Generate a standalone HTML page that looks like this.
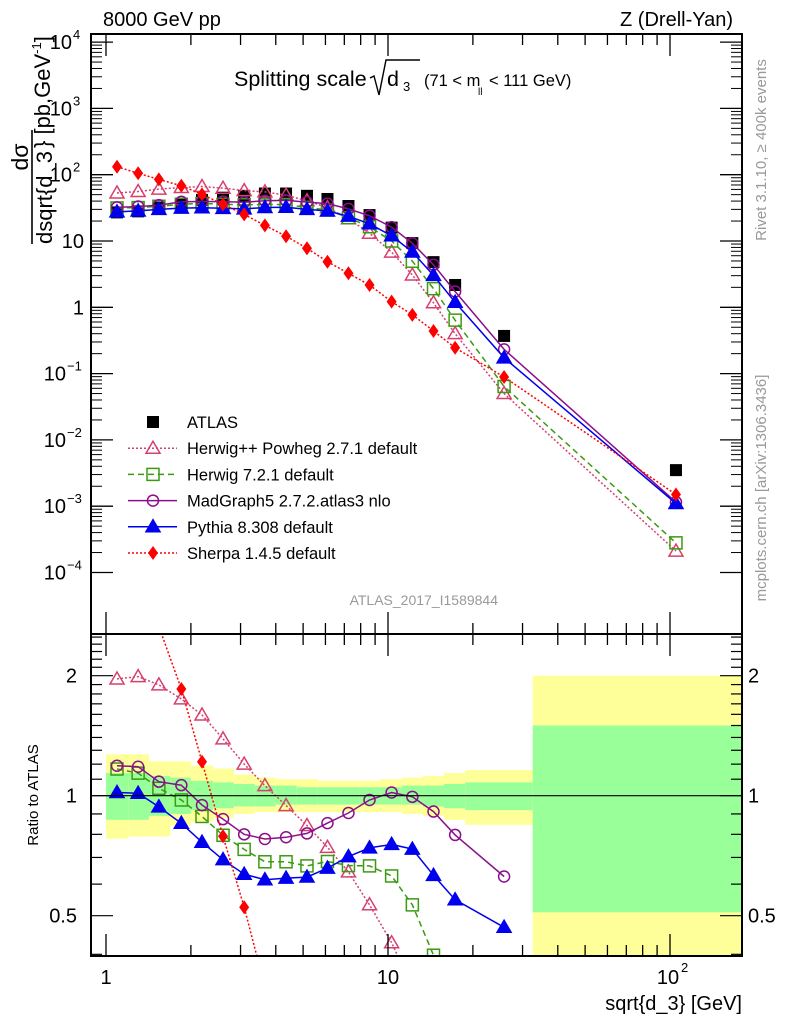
<!DOCTYPE html>
<html><head><meta charset="utf-8"><style>
html,body{margin:0;padding:0;background:#fff;width:786px;height:1024px;overflow:hidden;}
svg{display:block;font-family:"Liberation Sans",sans-serif;}
</style></head><body>
<svg id="c" width="786" height="1024" viewBox="0 0 786 1024" xmlns="http://www.w3.org/2000/svg">
<defs>
<clipPath id="mainClip"><rect x="91" y="34" width="651" height="600"/></clipPath>
<clipPath id="ratioClip"><rect x="91" y="634" width="651" height="322"/></clipPath>
</defs>
<g id="bands" clip-path="url(#ratioClip)"></g>
<g id="series"></g>
<g id="axes"></g>
<text x="103" y="26" font-size="20">8000 GeV pp</text>
<text x="733" y="26" font-size="20" text-anchor="end">Z (Drell-Yan)</text>
<g>
<text x="234" y="86" font-size="21.5">Splitting scale</text>
<path d="M370,78 L374,76 L379,95 L386,60 L420,60" fill="none" stroke="#000" stroke-width="1.4"/>
<text x="387" y="86" font-size="21.5">d</text><text x="403" y="91" font-size="13">3</text>
<text x="424" y="86" font-size="16.5">(71 &lt; m</text><text x="478" y="95" font-size="10">ll</text><text x="489" y="86" font-size="16.5">&lt; 111 GeV)</text>
</g>
<g>
<text transform="translate(28,157) rotate(-90)" font-size="23" text-anchor="middle">dσ</text>
<line x1="32" y1="130" x2="32" y2="244" stroke="#000" stroke-width="1.6"/>
<text transform="translate(52,244) rotate(-90)" font-size="22">dsqrt{d_3</text>
<text transform="translate(50,148) rotate(-90)" font-size="22">} [pb,GeV<tspan dy="-9" font-size="13">-1</tspan><tspan dy="9" font-size="22">]</tspan></text>
</g>
<text transform="translate(38,795) rotate(-90)" font-size="15" text-anchor="middle">Ratio to ATLAS</text>
<text x="742" y="1010" font-size="20" text-anchor="end">sqrt{d_3} [GeV]</text>
<text transform="translate(766,150) rotate(-90)" font-size="15" fill="#999" text-anchor="middle">Rivet 3.1.10, ≥ 400k events</text>
<text transform="translate(766,488) rotate(-90)" font-size="15" fill="#999" text-anchor="middle">mcplots.cern.ch [arXiv:1306.3436]</text>
<text x="498" y="605" font-size="14" fill="#999" text-anchor="end">ATLAS_2017_I1589844</text>
<g id="legend"></g>
</svg>
<script>
const xs=[1.094,1.30,1.54,1.85,2.19,2.60,3.09,3.66,4.35,5.16,6.1,7.24,8.6,10.3,12.2,14.5,17.3,25.8,105];
const atlas=[27,28,32,36.7,41.6,45,48,52,52,48,43,33.7,24.6,15.9,9.3,4.8,2.17,0.37,0.0035];
const herwigpp=[53,55.7,60.7,64.2,66.3,62.5,57.6,55.1,49.1,40.4,31.9,21.7,13.1,6.8,3.07,1.17,0.40,0.05,0.00021];
const herwig7=[31.5,31.9,33.4,35.8,36.9,35.8,35.2,35.5,35.5,32,29.4,22.5,16.4,10.0,4.95,1.91,0.64,0.064,0.00028];
const madgraph=[32.1,33.1,34.7,39.0,39.4,39.3,38.4,40.5,40.9,38.6,36.7,30.5,24.0,16.2,9.24,4.38,1.73,0.232,0.00115];
const pythia=[27.5,28.4,30.0,31.3,31.8,31.1,30.5,32.0,32.3,30.0,28.3,23.7,18.2,12.0,6.83,3.03,1.19,0.173,0.0011];
const sherpa=[132,105,85,68,50.6,35.6,25.2,17.2,11.8,7.76,4.87,3.26,2.17,1.22,0.77,0.44,0.245,0.089,0.0015];
const binEdges=[1.0,1.2,1.42,1.69,2.0,2.4,2.84,3.37,4.0,4.75,5.64,6.7,7.9,9.4,11.2,13.3,15.8,18.8,32.6,180];
const yellowUp=[1.27,1.27,1.22,1.22,1.19,1.17,1.13,1.11,1.10,1.10,1.09,1.09,1.09,1.10,1.11,1.12,1.14,1.16,2.0];
const yellowDn=[0.78,0.79,0.79,0.84,0.86,0.88,0.90,0.91,0.91,0.91,0.91,0.91,0.91,0.91,0.90,0.89,0.87,0.845,0.3];
const greenUp=[1.14,1.14,1.12,1.11,1.09,1.08,1.07,1.06,1.06,1.05,1.05,1.05,1.05,1.05,1.06,1.06,1.07,1.08,1.5];
const greenDn=[0.87,0.87,0.89,0.90,0.92,0.93,0.94,0.94,0.95,0.95,0.95,0.95,0.95,0.95,0.95,0.94,0.93,0.92,0.51];
const mainTicks=[-4,-3,-2,-1,0,1,2,3,4];
const ratioTickLabels=[0.5,1,2];
const ratioPointCount=18;

const NS="http://www.w3.org/2000/svg";
const L=91,R=742,T=34,M=634,B=956;
function X(v){return 106+282*Math.log10(v);}
function Y(v){return 241-66.3*(Math.log10(v)-1);}
function YR(v){return 795.7-398.6*Math.log10(v);}
function mk(tag,attrs,parent){const e=document.createElementNS(NS,tag);for(const k in attrs)e.setAttribute(k,attrs[k]);parent.appendChild(e);return e;}
const axes=document.getElementById('axes'),bands=document.getElementById('bands'),ser=document.getElementById('series'),leg=document.getElementById('legend');

for(let i=0;i<binEdges.length-1;i++){
  const x1=X(binEdges[i]),x2=X(binEdges[i+1]);
  const y=mk('rect',{x:x1,y:YR(yellowUp[i]),width:x2-x1,height:YR(yellowDn[i])-YR(yellowUp[i]),fill:'#ffff99'},bands);
  
  
  const g=mk('rect',{x:x1,y:YR(greenUp[i]),width:x2-x1,height:YR(greenDn[i])-YR(greenUp[i]),fill:'#99ff99'},bands);
  
  
}
const one=mk('line',{x1:L,x2:R,y1:YR(1),y2:YR(1),stroke:'#000','stroke-width':1.2},axes);



mk('rect',{x:L,y:T,width:R-L,height:M-T,fill:'none',stroke:'#000','stroke-width':2},axes);
mk('rect',{x:L,y:M,width:R-L,height:B-M,fill:'none',stroke:'#000','stroke-width':2},axes);

for(let d=0;d<=2;d++){for(let k=1;k<=9;k++){const v=k*Math.pow(10,d);if(v<0.885||v>180)continue;const x=X(v);const len=k==1?22:11;
 [[T,1],[M,-1],[M,1],[B,-1]].forEach(([y0,s])=>mk('line',{x1:x,x2:x,y1:y0,y2:y0+s*len,stroke:'#000','stroke-width':1.3},axes));}}
const xl=[[1,'1'],[10,'10']];
xl.forEach(([v,t])=>{const e=mk('text',{x:X(v),y:984,'font-size':20,'text-anchor':'middle'},axes);e.textContent=t;});
const e100=mk('text',{x:X(100)-2,y:984,'font-size':20,'text-anchor':'middle'},axes);e100.textContent='10';
const s100=mk('text',{x:X(100)+11,y:972,'font-size':13},axes);s100.textContent='2';

for(const p of mainTicks){const y=Y(Math.pow(10,p));
 mk('line',{x1:L,x2:L+22,y1:y,y2:y,stroke:'#000','stroke-width':1.3},axes);mk('line',{x1:R,x2:R-22,y1:y,y2:y,stroke:'#000','stroke-width':1.3},axes);
 for(let k=2;k<=9;k++){const yy=Y(k*Math.pow(10,p));if(yy<T)continue;mk('line',{x1:L,x2:L+11,y1:yy,y2:yy,stroke:'#000','stroke-width':1},axes);mk('line',{x1:R,x2:R-11,y1:yy,y2:yy,stroke:'#000','stroke-width':1},axes);}
 let t;
 if(p==0){t=mk('text',{x:84,y:y+7,'font-size':20,'text-anchor':'end'},axes);t.textContent='1';}
 else if(p==1){t=mk('text',{x:84,y:y+7,'font-size':20,'text-anchor':'end'},axes);t.textContent='10';}
 else{const ex=String(p).replace('-','−');t=mk('text',{x:p<0?66:72,y:y+7,'font-size':20,'text-anchor':'end'},axes);t.textContent='10';const s=mk('text',{x:p<0?67:73,y:y-3,'font-size':13},axes);s.textContent=ex;}
}
for(let i=4;i<=25;i++){const vv=i/10;const y=YR(vv);if(y<M||y>B)continue;
 const maj=(vv==0.5||vv==1||vv==2);const len=maj?22:11;
 mk('line',{x1:L,x2:L+len,y1:y,y2:y,stroke:'#000','stroke-width':1.2},axes);mk('line',{x1:R,x2:R-len,y1:y,y2:y,stroke:'#000','stroke-width':1.2},axes);}
ratioTickLabels.forEach(v=>{const y=YR(v)+7;
 const a=mk('text',{x:77,y:y,'font-size':20,'text-anchor':'end'},axes);a.textContent=String(v);
 const b=mk('text',{x:748,y:y,'font-size':20},axes);b.textContent=String(v);});

const models=[
 {name:'herwigpp',label:'Herwig++ Powheg 2.7.1 default',vals:herwigpp,color:'#d6406e',dash:'2,2',marker:'tri-open'},
 {name:'herwig7',label:'Herwig 7.2.1 default',vals:herwig7,color:'#3a9a10',dash:'6,4',marker:'sq-open'},
 {name:'madgraph',label:'MadGraph5 2.7.2.atlas3 nlo',vals:madgraph,color:'#8b0e8b',dash:'',marker:'circ-open'},
 {name:'pythia',label:'Pythia 8.308 default',vals:pythia,color:'#0000ee',dash:'',marker:'tri'},
 {name:'sherpa',label:'Sherpa 1.4.5 default',vals:sherpa,color:'#ff0000',dash:'2,2',marker:'dia'}
];
function marker(type,x,y,c,parent){let e;
 if(type=='tri-open'||type=='tri')e=mk('path',{d:`M${x},${y-7}L${x+7},${y+5}L${x-7},${y+5}Z`,fill:type=='tri'?c:'none',stroke:c,'stroke-width':1.5},parent);
 else if(type=='sq-open')e=mk('rect',{x:x-6,y:y-6,width:12,height:12,fill:'none',stroke:c,'stroke-width':1.5},parent);
 else if(type=='circ-open')e=mk('circle',{cx:x,cy:y,r:5.5,fill:'none',stroke:c,'stroke-width':1.5},parent);
 else if(type=='dia')e=mk('path',{d:`M${x},${y-7}L${x+5},${y}L${x},${y+7}L${x-5},${y}Z`,fill:c},parent);
 else e=mk('rect',{x:x-6,y:y-6,width:12,height:12,fill:c},parent);
 return e;}
const gm=mk('g',{'clip-path':'url(#mainClip)'},ser);
const gr=mk('g',{'clip-path':'url(#ratioClip)'},ser);
xs.forEach((x,i)=>{const a=marker('sq',X(x),Y(atlas[i]),'#000',gm);
 
 });
models.forEach(m=>{
 const pm=xs.map((x,i)=>`${X(x).toFixed(1)},${Y(m.vals[i]).toFixed(1)}`).join(' ');
 const l1=mk('polyline',{points:pm,fill:'none',stroke:m.color,'stroke-width':1.5,'stroke-dasharray':m.dash},gm);
 
 
 const rx=xs.slice(0,ratioPointCount);
 const pr=rx.map((x,i)=>`${X(x).toFixed(1)},${YR(m.vals[i]/atlas[i]).toFixed(1)}`).join(' ');
 const l2=mk('polyline',{points:pr,fill:'none',stroke:m.color,'stroke-width':1.5,'stroke-dasharray':m.dash},gr);
 
 
 xs.forEach((x,i)=>{
  const a=marker(m.marker,X(x),Y(m.vals[i]),m.color,gm);
  
  
  if(i<ratioPointCount){
   const b=marker(m.marker,X(x),YR(m.vals[i]/atlas[i]),m.color,gr);
   
   
  }
 });
});

const rows=[{label:'ATLAS',color:'#000',dash:null,marker:'sq'}].concat(models);
rows.forEach((r,i)=>{const y=422+26.2*i;
 const g=mk('g',{},leg);
 
 
 if(r.dash!==null){mk('line',{x1:128,x2:177,y1:y,y2:y,stroke:r.color,'stroke-width':1.5,'stroke-dasharray':r.dash},g);}
 marker(r.marker,153,y,r.color,g);
 const t=mk('text',{x:187,y:y+6,'font-size':16.5},g);t.textContent=r.label;});
</script>
</body></html>
